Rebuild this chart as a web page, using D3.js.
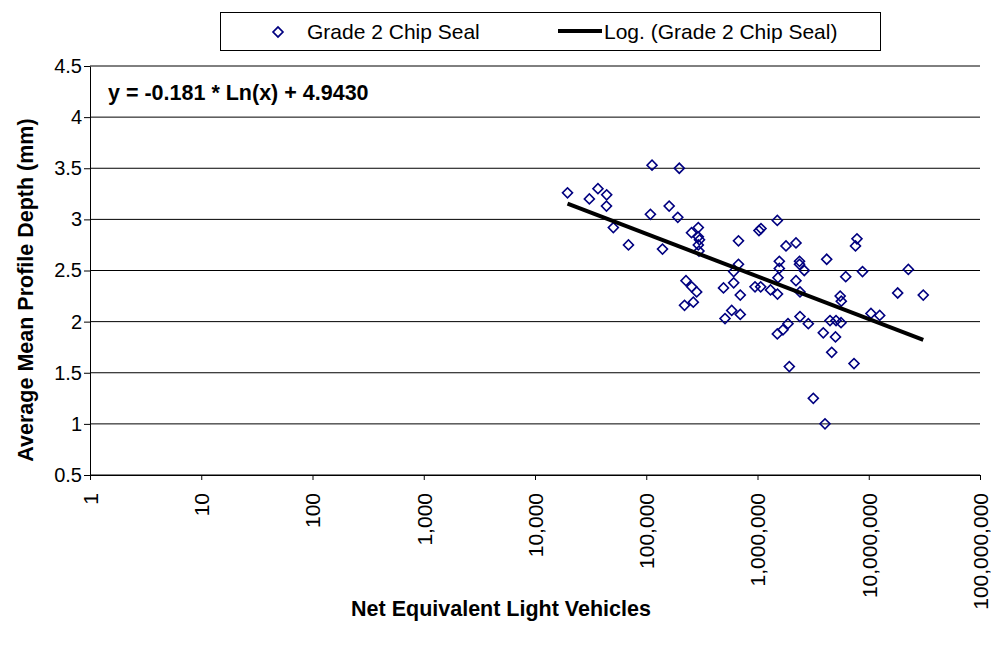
<!DOCTYPE html>
<html>
<head>
<meta charset="utf-8">
<script src="https://cdn.jsdelivr.net/npm/d3@7"></script>
<style>
  body { margin: 0; background: #fff; }
  text { font-family: Arial, "Liberation Sans", sans-serif; }
</style>
</head>
<body>
<div id="wrapper"></div>
<script>
// net equivalent light vehicles (x) and average mean profile depth in mm (y)
const vehicles = [
  19600, 30800, 36800, 44100, 43900, 50600, 69200, 109000, 112700, 140000,
  160700, 198200, 192100, 255200, 293700, 293700, 301000, 293700, 297800, 674500,
  1031000, 1075000, 1507000, 1804000, 2218000, 674500, 611000, 611000, 494600, 700000,
  950000, 1068000, 1309000, 1513000, 1571000, 1571000, 1528000, 2386000, 2386000, 2634000,
  2218000, 2410000, 4188000, 6209000, 7838000, 7600000, 8790000, 5535000, 5663000, 10470000,
  12540000, 18200000, 22700000, 30900000, 227600, 256300, 284000, 220800, 264800, 510500,
  586300, 700000, 2410000, 2862000, 1880000, 1694000, 1507000, 3902000, 4487000, 5080000,
  5633000, 5024000, 4645000, 7370000, 1932000, 3175000, 4044000
]
const depth = [
  3.26, 3.20, 3.30, 3.24, 3.13, 2.92, 2.75, 3.05, 3.53, 2.71,
  3.13, 3.50, 3.02, 2.87, 2.92, 2.83, 2.80, 2.75, 2.69, 2.79,
  2.89, 2.91, 2.99, 2.74, 2.77, 2.56, 2.49, 2.38, 2.33, 2.26,
  2.34, 2.34, 2.31, 2.27, 2.59, 2.52, 2.43, 2.59, 2.56, 2.50,
  2.40, 2.29, 2.61, 2.44, 2.81, 2.74, 2.49, 2.25, 2.20, 2.08,
  2.06, 2.28, 2.51, 2.26, 2.40, 2.34, 2.29, 2.16, 2.19, 2.03,
  2.11, 2.07, 2.05, 1.98, 1.98, 1.92, 1.88, 1.89, 2.01, 2.01,
  1.99, 1.85, 1.70, 1.59, 1.56, 1.25, 1.00
]
// log trend: y = slope * ln(x) + intercept
const trendSlope = -0.181
const trendIntercept = 4.9430

const xTicks = [1, 10, 100, 1000, 10000, 100000, 1000000, 10000000, 100000000]
const yTicks = [0.5, 1, 1.5, 2, 2.5, 3, 3.5, 4, 4.5]

const seriesName = "Grade 2 Chip Seal"
const trendName = "Log. (Grade 2 Chip Seal)"
const equationLabel = "y = -0.181 * Ln(x) + 4.9430"
const xTitle = "Net Equivalent Light Vehicles"
const yTitle = "Average Mean Profile Depth (mm)"

const dataset = vehicles.map((v, i) => ({x: v, y: depth[i]}))

const dimensions = {
    width: 991,
    height: 648,
    left: 90,
    right: 980,
    top: 66,
    bottom: 475,
}

const svg = d3.select("#wrapper")
    .append("svg")
    .attr("width", dimensions.width)
    .attr("height", dimensions.height)

const xScale = d3.scaleLog()
    .domain([1, 1e8])
    .range([dimensions.left, dimensions.right])

const yScale = d3.scaleLinear()
    .domain([0.5, 4.5])
    .range([dimensions.bottom, dimensions.top])

// gridlines
svg.append("g")
    .selectAll("line")
    .data(yTicks)
    .join("line")
    .attr("x1", dimensions.left)
    .attr("x2", dimensions.right)
    .attr("y1", d => yScale(d))
    .attr("y2", d => yScale(d))
    .attr("stroke", "#000")
    .attr("stroke-width", 1)

// y axis
const yAxis = svg.append("g")
    .attr("transform", `translate(${dimensions.left},0)`)
    .call(d3.axisLeft(yScale).tickValues(yTicks).tickSize(6).tickSizeOuter(0).tickFormat(d => String(d)))
yAxis.select(".domain").attr("stroke", "#000")
yAxis.selectAll("text")
    .attr("font-size", "20px")
    .attr("font-family", "Arial, 'Liberation Sans', sans-serif")
    .attr("fill", "#000")
    .attr("x", -8)

// x axis
const xAxis = svg.append("g")
    .attr("transform", `translate(0,${dimensions.bottom})`)
    .call(d3.axisBottom(xScale).tickValues(xTicks).tickSize(5).tickSizeOuter(0).tickFormat(d3.format(",")))
xAxis.select(".domain").attr("stroke", "#000")
xAxis.selectAll("text")
    .attr("font-size", "21px")
    .attr("font-family", "Arial, 'Liberation Sans', sans-serif")
    .attr("fill", "#000")
    .attr("text-anchor", "end")
    .attr("transform", "rotate(-90)")
    .attr("x", -18)
    .attr("y", 0)
    .attr("dy", "0.35em")

// points
const diamond = d3.symbol().type(d3.symbolSquare).size(50)
svg.append("g")
    .selectAll("path")
    .data(dataset)
    .join("path")
    .attr("d", diamond)
    .attr("transform", d => `translate(${xScale(d.x)},${yScale(d.y)}) rotate(45)`)
    .attr("fill", "none")
    .attr("stroke", "#000080")
    .attr("stroke-width", 1.6)

// trend line over the data range
const trendX = d3.extent(dataset, d => d.x)
const trendPts = trendX.map(x => ({x: x, y: trendSlope * Math.log(x) + trendIntercept}))
svg.append("path")
    .datum(trendPts)
    .attr("d", d3.line().x(d => xScale(d.x)).y(d => yScale(d.y)))
    .attr("stroke", "#000")
    .attr("stroke-width", 4)
    .attr("fill", "none")

// equation
svg.append("text")
    .attr("x", 108)
    .attr("y", 100)
    .attr("font-size", "21.5px")
    .attr("font-weight", "bold")
    .text(equationLabel)

// axis titles
svg.append("text")
    .attr("x", 501)
    .attr("y", 616)
    .attr("text-anchor", "middle")
    .attr("font-size", "21.5px")
    .attr("font-weight", "bold")
    .text(xTitle)

svg.append("text")
    .attr("transform", "translate(33,290) rotate(-90)")
    .attr("text-anchor", "middle")
    .attr("font-size", "21.5px")
    .attr("font-weight", "bold")
    .text(yTitle)

// legend
const legend = svg.append("g")
legend.append("rect")
    .attr("x", 220.5)
    .attr("y", 12.5)
    .attr("width", 660)
    .attr("height", 38)
    .attr("fill", "#fff")
    .attr("stroke", "#000")
legend.append("path")
    .attr("d", diamond)
    .attr("transform", "translate(278,32) rotate(45)")
    .attr("fill", "none")
    .attr("stroke", "#000080")
    .attr("stroke-width", 1.6)
legend.append("text")
    .attr("x", 307)
    .attr("y", 39)
    .attr("font-size", "21px")
    .text(seriesName)
legend.append("line")
    .attr("x1", 558)
    .attr("x2", 602)
    .attr("y1", 31)
    .attr("y2", 31)
    .attr("stroke", "#000")
    .attr("stroke-width", 4)
legend.append("text")
    .attr("x", 604)
    .attr("y", 39)
    .attr("font-size", "21px")
    .text(trendName)
</script>
</body>
</html>
